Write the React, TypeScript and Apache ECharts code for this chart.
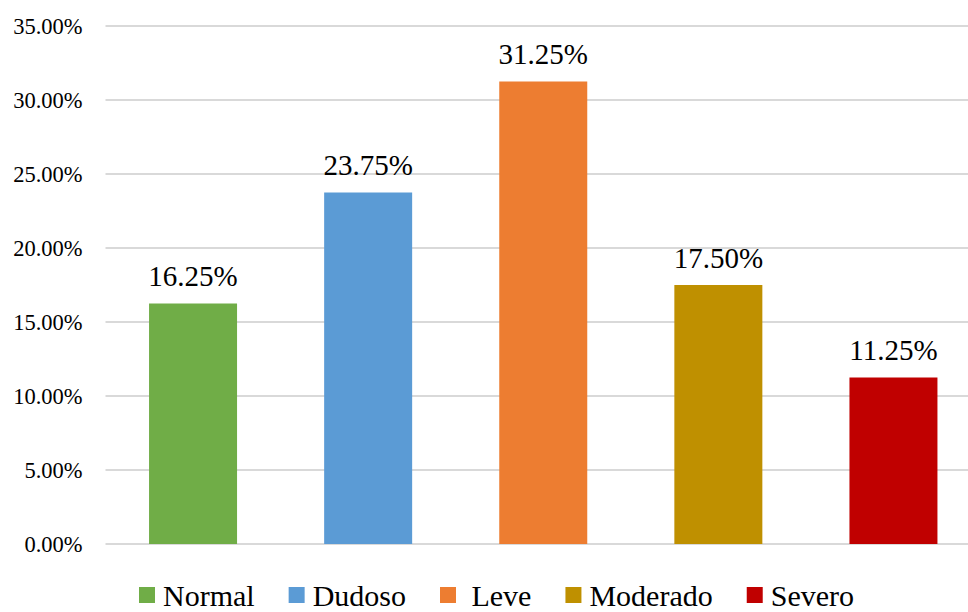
import React, { useEffect, useRef } from "react";
import * as echarts from "echarts";

const categories = ["Normal", "Dudoso", " Leve", "Moderado", "Severo"];
const values = [16.25, 23.75, 31.25, 17.5, 11.25];
const colors = ["#70AD47", "#5B9BD5", "#ED7D31", "#BF9000", "#C00000"];
const yTicks = { min: 0, max: 35, interval: 5 };

export default function App() {
  const ref = useRef<HTMLDivElement>(null);
  useEffect(() => {
    if (!ref.current) return;
    const chart = echarts.init(ref.current, null, { renderer: "svg" });
    const font = "Liberation Serif";
    const series = categories.map((name, i) => ({
      name,
      type: "bar",
      stack: "all",
      barWidth: 88,
      itemStyle: { color: colors[i] },
      label: {
        show: true,
        position: "top",
        distance: 13,
        fontFamily: font,
        fontSize: 29,
        color: "#000",
        formatter: (p: any) => p.value.toFixed(2) + "%",
      },
      data: categories.map((_, j) => (j === i ? values[i] : null)),
    }));
    chart.setOption({
      animation: false,
      textStyle: { fontFamily: font },
      grid: { left: 105.5, right: 0, top: 26, bottom: 68, containLabel: false, outerBoundsMode: "none" },
      legend: {
        top: 580,
        left: 139,
        padding: 0,
        itemWidth: 16,
        itemHeight: 16,
        itemGap: 34,
        icon: "rect",
        textStyle: { fontFamily: font, fontSize: 30, lineHeight: 30, color: "#000", padding: [0, 0, 0, 3] },
        data: categories,
      },
      xAxis: {
        type: "category",
        data: categories,
        axisLine: { show: false },
        axisTick: { show: false },
        axisLabel: { show: false },
      },
      yAxis: {
        type: "value",
        min: yTicks.min,
        max: yTicks.max,
        interval: yTicks.interval,
        axisLine: { show: false },
        axisTick: { show: false },
        splitLine: { lineStyle: { color: "#D9D9D9", width: 2 } },
        axisLabel: {
          fontFamily: font,
          fontSize: 22.5,
          color: "#000",
          margin: 23,
          formatter: (v: number) => v.toFixed(2) + "%",
        },
      },
      series,
    });
    return () => chart.dispose();
  }, []);
  return (
    <div
      style={{ position: "fixed", left: 0, top: 0, width: 968, height: 612, overflow: "hidden", background: "#fff" }}
    >
      <div ref={ref} style={{ width: 980.5, height: 612 }} />
    </div>
  );
}
